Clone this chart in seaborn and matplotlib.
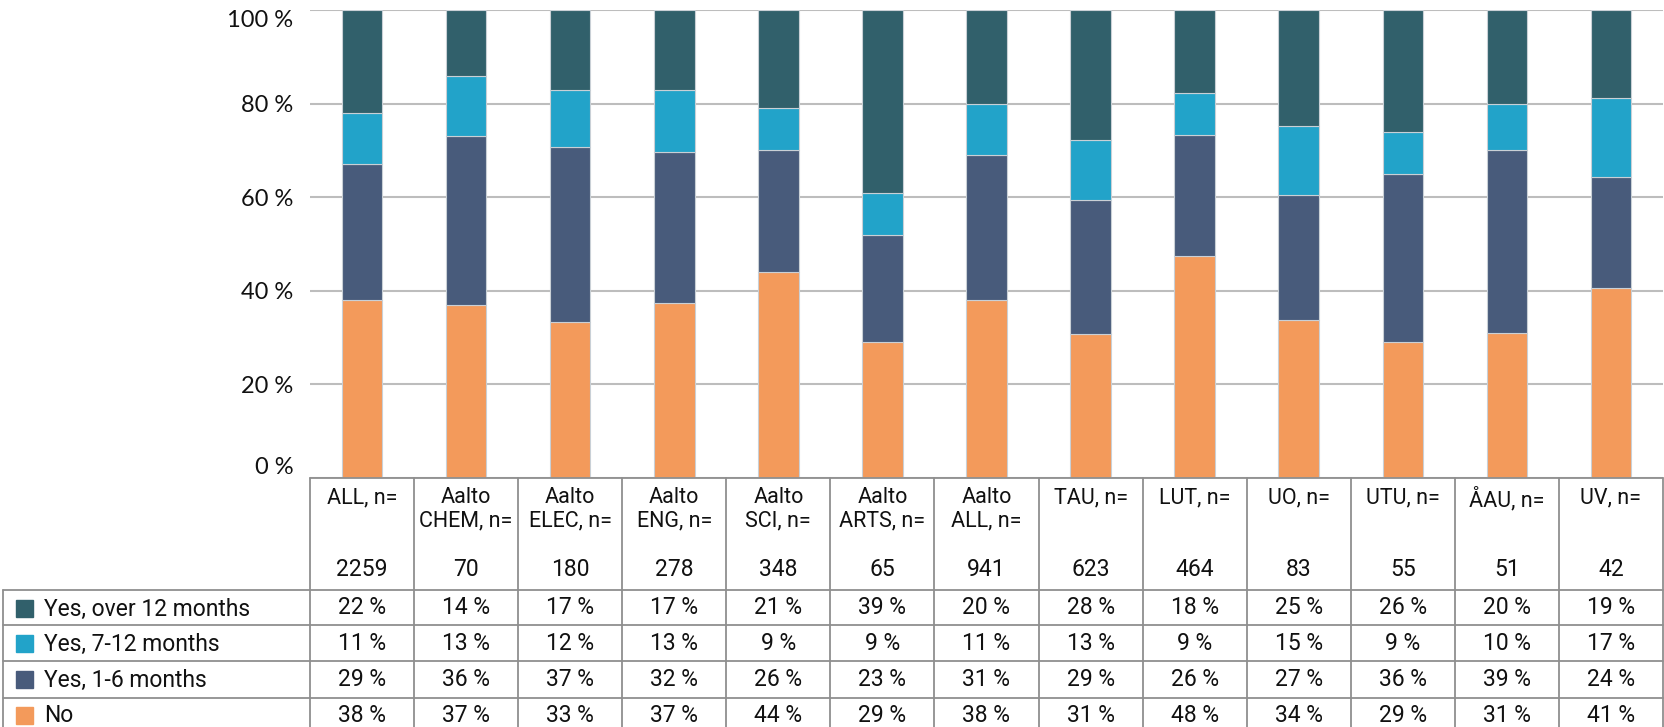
import numpy as np
import pandas as pd
import matplotlib
matplotlib.use("Agg")
import matplotlib.pyplot as plt
import seaborn as sns

# ---------------- data ----------------
group_labels = ["ALL, n=", "Aalto\nCHEM, n=", "Aalto\nELEC, n=", "Aalto\nENG, n=", "Aalto\nSCI, n=",
                "Aalto\nARTS, n=", "Aalto\nALL, n=", "TAU, n=", "LUT, n=", "UO, n=", "UTU, n=",
                "ÅAU, n=", "UV, n="]
group_n = ["2259", "70", "180", "278", "348", "65", "941", "623", "464", "83", "55", "51", "42"]

series_names = ["Yes, over 12 months", "Yes, 7-12 months", "Yes, 1-6 months", "No"]
over_12 = [22, 14, 17, 17, 21, 39, 20, 28, 18, 25, 26, 20, 19]
m7_12 = [11, 13, 12, 13, 9, 9, 11, 13, 9, 15, 9, 10, 17]
m1_6 = [29, 36, 37, 32, 26, 23, 31, 29, 26, 27, 36, 39, 24]
no = [38, 37, 33, 37, 44, 29, 38, 31, 48, 34, 29, 31, 41]

y_ticks = [0, 20, 40, 60, 80, 100]
y_tick_labels = ["0 %", "20 %", "40 %", "60 %", "80 %", "100 %"]

colors = {"Yes, over 12 months": "#31606B", "Yes, 7-12 months": "#22A3C9",
          "Yes, 1-6 months": "#485B7B", "No": "#F39A5B"}

# ---------------- figure ----------------
W, H = 1665, 727
sns.set_theme(style="white")
plt.rcParams["font.family"] = ["Lato", "DejaVu Sans"]
fig = plt.figure(figsize=(W / 100, H / 100), dpi=100)

ax_left_px, ax_right_px = 310, 1663
ax_top_px, ax_bot_px = 10, 478
ax = fig.add_axes([ax_left_px / W, (H - ax_bot_px) / H,
                   (ax_right_px - ax_left_px) / W, (ax_bot_px - ax_top_px) / H])

cats = [f"c{i}" for i in range(len(group_n))]
raw = np.array([no, m1_6, m7_12, over_12], dtype=float)
totals = raw.sum(axis=0)
norm = raw / totals * 100
stack_order = ["No", "Yes, 1-6 months", "Yes, 7-12 months", "Yes, over 12 months"]
bottom = np.zeros(len(cats))
for name, vals in zip(stack_order, norm):
    df = pd.DataFrame({"cat": cats, "val": vals})
    sns.barplot(data=df, x="cat", y="val", order=cats, bottom=bottom.copy(),
                color=colors[name], width=0.39, ax=ax, edgecolor="#c9d0d6",
                linewidth=0.8, saturation=1, errorbar=None, zorder=3)
    bottom += vals

ax.set_xlim(-0.5, len(cats) - 0.5)
ax.set_ylim(0, 100)
ax.set_yticks(y_ticks)
ax.set_yticklabels(y_tick_labels, fontsize=17, color="#111111")
ax.set_xticks([])
ax.set_xlabel("")
ax.set_ylabel("")
for lbl in ax.get_yticklabels():
    if lbl.get_text() == "100 %":
        lbl.set_va("top")
    elif lbl.get_text() == "0 %":
        lbl.set_va("bottom")
ax.tick_params(axis="y", length=0, pad=12)
ax.yaxis.grid(True, color="#bdbdbd", linewidth=1.5, zorder=0)
ax.set_axisbelow(True)
for s in ax.spines.values():
    s.set_visible(False)

# ---------------- data table ----------------
tab = fig.add_axes([ax_left_px / W, 0, (ax_right_px - ax_left_px) / W, (H - ax_bot_px) / H])
tab.set_xlim(-0.5, len(cats) - 0.5)
tab_h = H - ax_bot_px
tab.set_ylim(tab_h, 0)
tab.axis("off")

col_px = (ax_right_px - ax_left_px) / len(cats)
def px2x(px):
    return (px - ax_left_px) / col_px - 0.5

line_c = "#8f8f8f"
lw = 1.3
row_lines = [112, 147, 183, 220]
leg_left = px2x(3)
tab.plot([-0.5, len(cats) - 0.5], [0, 0], color=line_c, lw=lw, clip_on=False)
for yl in row_lines:
    tab.plot([leg_left, len(cats) - 0.5], [yl, yl], color=line_c, lw=lw, clip_on=False)
for i in range(len(cats) + 1):
    tab.plot([i - 0.5, i - 0.5], [0, tab_h], color=line_c, lw=lw, clip_on=False)
tab.plot([leg_left, leg_left], [row_lines[0], tab_h], color=line_c, lw=lw, clip_on=False)

tfont = ["Roboto", "DejaVu Sans"]
for i, (lab, n) in enumerate(zip(group_labels, group_n)):
    tab.text(i, 9, lab, ha="center", va="top", fontsize=15.5, family=tfont,
             linespacing=1.15, color="#111111")
    tab.text(i, 92, n, ha="center", va="center", fontsize=16.5, family=tfont, color="#111111")

row_centers = [130, 165, 201, 237]
table_series = [over_12, m7_12, m1_6, no]
for r, (name, vals) in enumerate(zip(series_names, table_series)):
    yc = row_centers[r]
    for i, v in enumerate(vals):
        tab.text(i, yc, f"{v} %", ha="center", va="center", fontsize=16.5,
                 family=tfont, color="#111111")
    sq = 17
    tab.add_patch(plt.Rectangle((px2x(16), yc - sq / 2), sq / col_px, sq,
                                color=colors[name], clip_on=False))
    tab.text(px2x(44), yc + 1, name, ha="left", va="center", fontsize=16.5,
             family=tfont, color="#111111")

fig.savefig("out.png", dpi=100)
